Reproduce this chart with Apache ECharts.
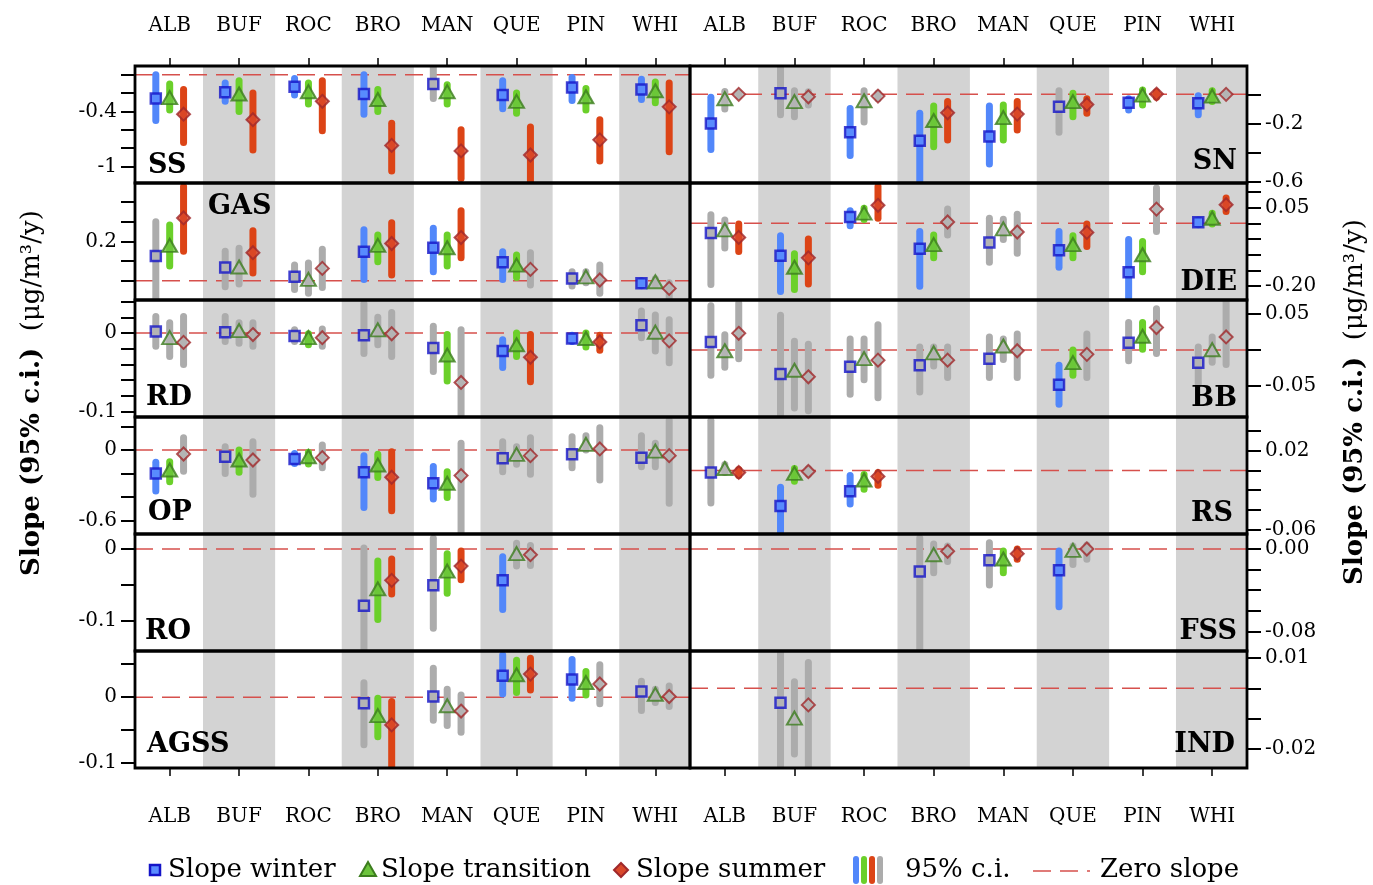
<!DOCTYPE html>
<html><head><meta charset="utf-8">
<script src="https://cdn.jsdelivr.net/npm/echarts@6/dist/echarts.min.js"></script>
<style>html,body{margin:0;padding:0;background:#fff}#c{width:1373px;height:885px}</style>
</head><body><div id="c"></div>
<script>
// ---------------- DATA ----------------
const SITES = ['ALB','BUF','ROC','BRO','MAN','QUE','PIN','WHI'];
// each item: [slope, ci bound 1, ci bound 2, significant 1/0]  (null = no data)
const SS_W = [[-0.26,0.0,-0.50,1],[-0.19,-0.09,-0.29,1],[-0.13,-0.04,-0.22,1],[-0.21,0,-0.43,1],[-0.10,0.09,-0.26,0],[-0.22,-0.065,-0.37,1],[-0.14,-0.03,-0.28,1],[-0.16,-0.05,-0.27,1]];
const SS_T = [[-0.25,-0.10,-0.385,1],[-0.21,-0.065,-0.40,1],[-0.185,-0.09,-0.32,1],[-0.27,-0.16,-0.40,1],[-0.185,-0.11,-0.32,1],[-0.29,-0.20,-0.42,1],[-0.24,-0.15,-0.385,1],[-0.175,-0.08,-0.305,1]];
const SS_S = [[-0.43,-0.16,-0.74,1],[-0.49,-0.20,-0.82,1],[-0.29,-0.065,-0.61,1],[-0.77,-0.53,-1.05,1],[-0.83,-0.60,-1.13,1],[-0.875,-0.57,-1.17,1],[-0.71,-0.49,-0.94,1],[-0.35,-0.09,-0.84,1]];

const SN_W = [[-0.20,-0.02,-0.38,1],[0.007,0.19,-0.14,0],[-0.26,-0.097,-0.42,1],[-0.32,-0.13,-0.62,1],[-0.29,-0.08,-0.48,1],[-0.085,0.025,-0.26,0],[-0.058,-0.03,-0.108,1],[-0.062,-0.01,-0.14,1]];
const SN_T = [[-0.03,0.02,-0.10,0],[-0.05,0.025,-0.155,0],[-0.044,0.025,-0.19,0],[-0.18,-0.08,-0.36,1],[-0.16,-0.074,-0.315,1],[-0.05,0.007,-0.155,1],[-0.005,0.03,-0.074,1],[-0.012,0.025,-0.05,1]];
const SN_S = [[0.0,0.01,-0.01,0],[-0.017,0.017,-0.074,0],[-0.012,0.01,-0.03,0],[-0.127,-0.05,-0.315,1],[-0.136,-0.05,-0.246,1],[-0.07,-0.03,-0.13,1],[0.002,0.017,-0.02,1],[0.0,0.01,-0.01,0]];

const GAS_W = [[0.126,0.30,-0.09,0],[0.068,0.15,-0.03,0],[0.02,0.08,-0.044,0],[0.148,0.26,0.007,1],[0.168,0.267,0.046,1],[0.094,0.148,0.007,1],[0.012,0.046,-0.027,0],[-0.013,0.0,-0.025,1]];
const GAS_T = [[0.18,0.284,0.075,1],[0.07,0.165,-0.017,0],[0.007,0.09,-0.064,0],[0.18,0.233,0.097,1],[0.168,0.233,0.075,1],[0.08,0.131,0.017,1],[0.02,0.046,-0.01,0],[-0.005,0.01,-0.02,0]];
const GAS_S = [[0.32,0.48,0.15,1],[0.143,0.255,0.04,1],[0.063,0.16,-0.034,0],[0.19,0.296,0.029,1],[0.22,0.357,0.117,1],[0.058,0.143,-0.022,0],[0.004,0.08,-0.064,0],[-0.039,-0.01,-0.09,0]];

const DIE_W = [[-0.031,0.027,-0.195,0],[-0.103,-0.04,-0.217,1],[0.02,0.04,-0.008,1],[-0.081,-0.026,-0.2,1],[-0.061,0.016,-0.124,0],[-0.086,-0.026,-0.14,1],[-0.156,-0.052,-0.26,1],[0.003,0.01,-0.005,1]];
const DIE_T = [[-0.021,0.01,-0.079,0],[-0.14,-0.097,-0.211,1],[0.032,0.048,0.012,1],[-0.068,-0.037,-0.11,1],[-0.018,0.013,-0.052,0],[-0.068,-0.04,-0.11,1],[-0.1,-0.058,-0.154,1],[0.016,0.032,-0.002,1]];
const DIE_S = [[-0.045,-0.002,-0.09,1],[-0.11,-0.05,-0.193,1],[0.057,0.117,0.016,1],[0.004,0.045,-0.037,0],[-0.028,0.029,-0.095,0],[-0.029,-0.002,-0.074,1],[0.045,0.112,-0.026,0],[0.059,0.08,0.037,1]];

const RD_W = [[0.002,0.021,-0.017,0],[0.001,0.021,-0.011,0],[-0.004,0.004,-0.011,0],[-0.003,0.038,-0.026,0],[-0.019,0.0085,-0.049,0],[-0.023,-0.0085,-0.044,1],[-0.007,-0.003,-0.011,1],[0.0098,0.028,-0.006,0]];
const RD_T = [[-0.006,0.013,-0.03,0],[0.003,0.013,-0.013,0],[-0.006,-0.001,-0.015,1],[0.004,0.02,-0.015,0],[-0.028,-0.002,-0.061,1],[-0.015,0.0,-0.03,1],[-0.007,0.0,-0.018,1],[0.001,0.023,-0.023,0]];
const RD_S = [[-0.012,0.021,-0.04,0],[-0.002,0.013,-0.017,0],[-0.006,0.005,-0.017,0],[-0.001,0.026,-0.03,0],[-0.063,0.004,-0.11,0],[-0.031,-0.002,-0.062,1],[-0.0115,-0.003,-0.022,1],[-0.01,0.017,-0.038,0]];

const BB_W = [[0.011,0.061,-0.035,0],[-0.033,0.048,-0.095,0],[-0.023,0.015,-0.061,0],[-0.021,0.004,-0.058,0],[-0.012,0.018,-0.038,0],[-0.048,-0.021,-0.075,1],[0.01,0.038,-0.015,0],[-0.0175,0.004,-0.047,0]];
const BB_T = [[-0.001,0.021,-0.024,0],[-0.028,0.012,-0.08,0],[-0.012,0.015,-0.041,0],[-0.004,0.004,-0.022,0],[0.0055,0.015,-0.013,0],[-0.0175,0.0,-0.035,1],[0.019,0.038,0.001,1],[0.0004,0.018,-0.017,0]];
const BB_S = [[0.023,0.065,-0.012,0],[-0.037,0.008,-0.084,0],[-0.014,0.035,-0.066,0],[-0.014,0.004,-0.038,0],[-0.001,0.022,-0.038,0],[-0.006,0.022,-0.038,0],[0.031,0.057,-0.005,0],[0.018,0.07,-0.02,0]];

const OP_W = [[-0.20,-0.105,-0.35,1],[-0.057,0.028,-0.2,0],[-0.077,-0.03,-0.115,1],[-0.19,-0.048,-0.49,1],[-0.283,-0.14,-0.417,1],[-0.071,0.07,-0.185,0],[-0.037,0.113,-0.15,0],[-0.065,0.122,-0.142,0]];
const OP_T = [[-0.17,-0.1,-0.27,1],[-0.085,0.0,-0.19,1],[-0.057,-0.02,-0.12,1],[-0.128,-0.037,-0.235,1],[-0.283,-0.185,-0.405,1],[-0.037,0.028,-0.122,0],[0.048,0.122,0.0,0],[-0.009,0.057,-0.142,0]];
const OP_S = [[-0.034,0.105,-0.18,0],[-0.085,0.07,-0.377,0],[-0.065,0.043,-0.15,0],[-0.232,-0.014,-0.517,1],[-0.218,0.057,-0.72,0],[-0.048,0.105,-0.207,0],[0.009,0.19,-0.255,0],[-0.048,0.255,-0.454,0]];

const RS_W = [[-0.002,0.051,-0.033,0],[-0.036,-0.017,-0.07,1],[-0.021,-0.005,-0.034,1],null,null,null,null,null];
const RS_T = [[0.002,0.006,-0.002,0],[-0.003,0.002,-0.011,1],[-0.0097,-0.004,-0.019,1],null,null,null,null,null];
const RS_S = [[-0.002,0.001,-0.005,1],[-0.001,0.002,-0.004,0],[-0.006,-0.002,-0.015,1],null,null,null,null,null];

const RO_W = [null,null,null,[-0.0795,0.0014,-0.15,0],[-0.051,0.015,-0.111,0],[-0.044,-0.011,-0.085,1],null,null];
const RO_T = [null,null,null,[-0.056,-0.017,-0.099,1],[-0.031,-0.0066,-0.062,1],[-0.0066,0.008,-0.024,0],null,null];
const RO_S = [null,null,null,[-0.044,-0.014,-0.063,1],[-0.024,-0.003,-0.043,1],[-0.008,0.005,-0.023,0],null,null];

const FSS_W = [null,null,null,[-0.0217,0.0107,-0.1,0],[-0.011,0.006,-0.035,0],[-0.0207,-0.002,-0.056,1],null,null];
const FSS_T = [null,null,null,[-0.0055,0.005,-0.023,0],[-0.0097,-0.002,-0.023,1],[-0.0013,0.003,-0.015,0],null,null];
const FSS_S = [null,null,null,[-0.0022,0.003,-0.012,0],[-0.0045,0.0,-0.01,1],[0.0,0.004,-0.01,0],null,null];

const AGSS_W = [null,null,null,[-0.009,0.022,-0.072,0],[0.001,0.044,-0.035,0],[0.0326,0.064,0.005,1],[0.027,0.057,-0.0015,1],[0.0085,0.024,-0.02,0]];
const AGSS_T = [null,null,null,[-0.028,-0.0015,-0.06,1],[-0.013,0.012,-0.043,0],[0.034,0.056,0.007,1],[0.022,0.039,0.0035,1],[0.0045,0.012,-0.008,0]];
const AGSS_S = [null,null,null,[-0.042,-0.0066,-0.11,1],[-0.021,0.0035,-0.053,0],[0.035,0.059,0.011,1],[0.02,0.049,-0.01,0],[0.001,0.017,-0.014,0]];

const IND_W = [null,[-0.0048,0.013,-0.028,0],null,null,null,null,null,null];
const IND_T = [null,[-0.0099,0.0022,-0.0218,0],null,null,null,null,null,null];
const IND_S = [null,[-0.0055,0.0085,-0.028,0],null,null,null,null,null,null];

// axis extents, tick values and tick labels
const SS_RANGE = [-1.18, 0.095];   const SS_TICKS = [-1,-0.8,-0.6,-0.4,-0.2,0];   const SS_LABELS = ['-0.4','-1'];
const SN_RANGE = [-0.61, 0.195];   const SN_TICKS = [-0.6,-0.4,-0.2,0];           const SN_LABELS = ['-0.2','-0.6'];
const GAS_RANGE = [-0.098, 0.498]; const GAS_TICKS = [-0.1,0,0.1,0.2,0.3,0.4,0.5]; const GAS_LABELS = ['0.5','0.2','-0.1'];
const DIE_RANGE = [-0.244, 0.128]; const DIE_TICKS = [-0.2,-0.15,-0.1,-0.05,0,0.05,0.1]; const DIE_LABELS = ['0.05','-0.20'];
const RD_RANGE = [-0.107, 0.042];  const RD_TICKS = [-0.1,-0.08,-0.06,-0.04,-0.02,0,0.02,0.04]; const RD_LABELS = ['0','-0.1'];
const BB_RANGE = [-0.0925, 0.069]; const BB_TICKS = [-0.05,0,0.05];               const BB_LABELS = ['0.05','-0.05'];
const OP_RANGE = [-0.715, 0.281];  const OP_TICKS = [-0.6,-0.4,-0.2,0,0.2];       const OP_LABELS = ['0','-0.6'];
const RS_RANGE = [-0.0645, 0.0543]; const RS_TICKS = [-0.06,-0.04,-0.02,0,0.02,0.04]; const RS_LABELS = ['0.02','-0.06'];
const RO_RANGE = [-0.143, 0.021];  const RO_TICKS = [-0.1,-0.05,0];               const RO_LABELS = ['0','-0.1'];
const FSS_RANGE = [-0.099, 0.0146]; const FSS_TICKS = [-0.08,-0.06,-0.04,-0.02,0]; const FSS_LABELS = ['0.00','-0.08'];
const AGSS_RANGE = [-0.1073, 0.07]; const AGSS_TICKS = [-0.1,-0.05,0,0.05];       const AGSS_LABELS = ['0','-0.1'];
const IND_RANGE = [-0.0264, 0.01235]; const IND_TICKS = [-0.02,-0.01,0,0.01];     const IND_LABELS = ['0.01','-0.02'];

// ---------------- STYLE / LAYOUT ----------------
const FONT = "'DejaVu Serif', 'Liberation Serif', serif";
const COLS = [{left:135,width:555},{left:690,width:557}];
const TOP0 = 66, PH = 117;
const OFF = [-0.2, 0, 0.2];
const CI_COL = ['#5287fa','#6bd02a','#dc4416'];
const GRAY_CI = '#acacac';
const FILL = ['#5a8cff','#6cc43c','#d9482a'];
const GRAY_FILL = '#b6b6b6';
const BORDER = ['#1414c8','#3c7d1e','#a0282a'];
const SYM = ['rect','triangle','diamond'];
const SYM_SIZE = [[10,10],[15,13],[13,13]];
const SERIES_NAMES = ['Slope winter','Slope transition','Slope summer'];

const PANELS = [
  {name:'SS',  col:0,row:0,d:[SS_W,SS_T,SS_S],r:SS_RANGE,t:SS_TICKS,l:SS_LABELS, lx:148,ly:166,al:'left'},
  {name:'SN',  col:1,row:0,d:[SN_W,SN_T,SN_S],r:SN_RANGE,t:SN_TICKS,l:SN_LABELS, lx:1237,ly:162,al:'right'},
  {name:'GAS', col:0,row:1,d:[GAS_W,GAS_T,GAS_S],r:GAS_RANGE,t:GAS_TICKS,l:GAS_LABELS, lx:208,ly:207,al:'left'},
  {name:'DIE', col:1,row:1,d:[DIE_W,DIE_T,DIE_S],r:DIE_RANGE,t:DIE_TICKS,l:DIE_LABELS, lx:1237,ly:283,al:'right'},
  {name:'RD',  col:0,row:2,d:[RD_W,RD_T,RD_S],r:RD_RANGE,t:RD_TICKS,l:RD_LABELS, lx:146,ly:398,al:'left'},
  {name:'BB',  col:1,row:2,d:[BB_W,BB_T,BB_S],r:BB_RANGE,t:BB_TICKS,l:BB_LABELS, lx:1237,ly:399,al:'right'},
  {name:'OP',  col:0,row:3,d:[OP_W,OP_T,OP_S],r:OP_RANGE,t:OP_TICKS,l:OP_LABELS, lx:148,ly:513,al:'left'},
  {name:'RS',  col:1,row:3,d:[RS_W,RS_T,RS_S],r:RS_RANGE,t:RS_TICKS,l:RS_LABELS, lx:1233,ly:514,al:'right'},
  {name:'RO',  col:0,row:4,d:[RO_W,RO_T,RO_S],r:RO_RANGE,t:RO_TICKS,l:RO_LABELS, lx:145,ly:632,al:'left'},
  {name:'FSS', col:1,row:4,d:[FSS_W,FSS_T,FSS_S],r:FSS_RANGE,t:FSS_TICKS,l:FSS_LABELS, lx:1237,ly:632,al:'right'},
  {name:'AGSS',col:0,row:5,d:[AGSS_W,AGSS_T,AGSS_S],r:AGSS_RANGE,t:AGSS_TICKS,l:AGSS_LABELS, lx:147,ly:745,al:'left'},
  {name:'IND', col:1,row:5,d:[IND_W,IND_T,IND_S],r:IND_RANGE,t:IND_TICKS,l:IND_LABELS, lx:1235,ly:745,al:'right'}
];

const grid = [], xAxis = [], yAxis = [], series = [], graphic = [];

PANELS.forEach((p, gi) => {
  const c = COLS[p.col];
  grid.push({left:c.left, width:c.width, top:TOP0 + p.row*PH, height:PH, show:true,
    borderColor:'#000', borderWidth:2.8, backgroundColor:'transparent', z:10});
  const dataAxisPos = p.row === 0 ? 'bottom' : 'top';
  const xi = xAxis.length;
  xAxis.push({type:'value', gridIndex:gi, min:0.5, max:8.5, show:false, position:dataAxisPos});
  if (p.row === 0 || p.row === 5) {
    xAxis.push({type:'category', gridIndex:gi, data:SITES, boundaryGap:true,
      position: p.row === 0 ? 'top' : 'bottom',
      axisLine:{show:false}, axisTick:{show:true, alignWithLabel:true, length:8, lineStyle:{color:'#000', width:1.5}},
      axisLabel:{fontFamily:FONT, fontSize:20, color:'#000', margin: p.row === 0 ? 30 : 39},
      splitLine:{show:false}});
  }
  const labelVals = p.l.map(Number);
  yAxis.push({type:'value', gridIndex:gi, min:p.r[0], max:p.r[1], position: p.col === 0 ? 'left' : 'right',
    axisLine:{show:false}, splitLine:{show:false},
    axisTick:{show:true, length:14, customValues:p.t, lineStyle:{color:'#000', width:2}},
    axisLabel:{show:true, customValues:labelVals, fontFamily:FONT, fontSize:20, color:'#000', margin:18,
      formatter:(v) => { const i = labelVals.findIndex(x => Math.abs(x - v) < 1e-9); return i >= 0 ? p.l[i] : ''; }}
  });
  const ymin = p.r[0], ymax = p.r[1];
  // shading of alternate site columns
  series.push({type:'custom', xAxisIndex:xi, yAxisIndex:gi, z:1, silent:true, clip:true,
    data: SITES.map((s,i) => i+1).filter(x => x % 2 === 0),
    renderItem:(params, api) => {
      const x = api.value(0);
      const a = api.coord([x-0.52, ymax]), b = api.coord([x+0.52, ymin]);
      return {type:'rect', shape:{x:a[0], y:a[1], width:b[0]-a[0], height:b[1]-a[1]}, style:{fill:'#d3d3d3'}};
    }});
  // zero slope line
  series.push({type:'custom', xAxisIndex:xi, yAxisIndex:gi, z:2, silent:true, clip:true,
    data:[[0]],
    renderItem:(params, api) => {
      const a = api.coord([0.5, api.value(0)]), b = api.coord([8.5, api.value(0)]);
      return {type:'line', shape:{x1:a[0], y1:a[1], x2:b[0], y2:b[1]}, style:{stroke:'#d6504c', lineWidth:1.5, lineDash:[18,9]}};
    }});
  // confidence intervals
  const ciData = [];
  p.d.forEach((arr, k) => arr.forEach((v, i) => { if (v) ciData.push([i+1+OFF[k], v[1], v[2], v[3], k]); }));
  series.push({type:'custom', name:'95% c.i.', xAxisIndex:xi, yAxisIndex:gi, z:3, silent:true, clip:true,
    data:ciData,
    renderItem:(params, api) => {
      const x = api.value(0), a = api.coord([x, api.value(1)]), b = api.coord([x, api.value(2)]);
      const sig = api.value(3), k = api.value(4);
      return {type:'line', shape:{x1:a[0], y1:a[1], x2:b[0], y2:b[1]},
        style:{stroke: sig ? CI_COL[k] : GRAY_CI, lineWidth:7, lineCap:'round'}};
    }});
  // slope markers
  p.d.forEach((arr, k) => {
    const data = [];
    arr.forEach((v, i) => { if (v) data.push({value:[i+1+OFF[k], v[0]], itemStyle:{color: v[3] ? FILL[k] : GRAY_FILL}}); });
    series.push({type:'scatter', name:SERIES_NAMES[k], xAxisIndex:xi, yAxisIndex:gi, z:4 + k, silent:true,
      symbol:SYM[k], symbolSize:SYM_SIZE[k], data,
      itemStyle:{borderColor:BORDER[k], borderWidth: k === 0 ? 2.5 : 2}});
  });
  graphic.push({type:'text', x:p.lx, y:p.ly, z:20, style:{text:p.name, font:"bold 27px " + FONT, fill:'#000', textAlign:p.al, textVerticalAlign:'middle'}});
});

// axis titles
const titleRich = {b:{fontFamily:FONT, fontWeight:'bold', fontSize:26, fill:'#000'}, n:{fontFamily:FONT, fontSize:26, fill:'#000'}};
[{x:32, y:393},{x:1355, y:402}].forEach(t => {
  graphic.push({type:'text', x:t.x, y:t.y, rotation:Math.PI/2, z:20,
    style:{text:'{b|Slope (95% c.i.)}{n|  (μg/m³/y)}', rich:titleRich, textAlign:'center', textVerticalAlign:'middle'}});
});

// legend
const LEG_Y = 870;
const legFont = "26px " + FONT;
graphic.push(
  {type:'rect', shape:{x:150, y:LEG_Y-5, width:10, height:10}, style:{fill:FILL[0], stroke:BORDER[0], lineWidth:2.5}, z:20},
  {type:'text', x:168, y:LEG_Y, style:{text:'Slope winter', font:legFont, fill:'#000', textVerticalAlign:'middle'}, z:20},
  {type:'polygon', shape:{points:[[368,LEG_Y-8],[360,LEG_Y+6],[376,LEG_Y+6]]}, style:{fill:FILL[1], stroke:BORDER[1], lineWidth:2}, z:20},
  {type:'text', x:381, y:LEG_Y, style:{text:'Slope transition', font:legFont, fill:'#000', textVerticalAlign:'middle'}, z:20},
  {type:'polygon', shape:{points:[[621,LEG_Y-7],[628,LEG_Y],[621,LEG_Y+7],[614,LEG_Y]]}, style:{fill:FILL[2], stroke:BORDER[2], lineWidth:2}, z:20},
  {type:'text', x:636, y:LEG_Y, style:{text:'Slope summer', font:legFont, fill:'#000', textVerticalAlign:'middle'}, z:20}
);
[CI_COL[0], CI_COL[1], CI_COL[2], GRAY_CI].forEach((c, i) => {
  graphic.push({type:'rect', shape:{x:853 + i*8, y:LEG_Y-14, width:6, height:28, r:3}, style:{fill:c}, z:20});
});
graphic.push(
  {type:'text', x:905, y:LEG_Y, style:{text:'95% c.i.', font:legFont, fill:'#000', textVerticalAlign:'middle'}, z:20},
  {type:'line', shape:{x1:1033, y1:LEG_Y+1, x2:1090, y2:LEG_Y+1}, style:{stroke:'#d6504c', lineWidth:1.5, lineDash:[18,9]}, z:20},
  {type:'text', x:1100, y:LEG_Y, style:{text:'Zero slope', font:legFont, fill:'#000', textVerticalAlign:'middle'}, z:20}
);

const chart = echarts.init(document.getElementById('c'), null, {renderer:'canvas'});
chart.setOption({animation:false, backgroundColor:'#fff', grid, xAxis, yAxis, series, graphic});
</script></body></html>
